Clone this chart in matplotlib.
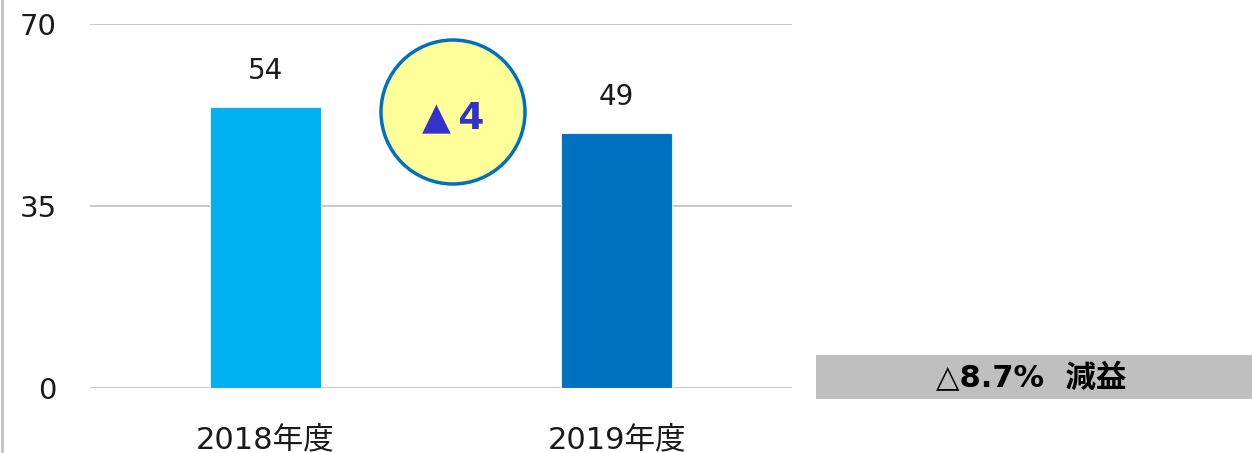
import matplotlib.pyplot as plt
from matplotlib.patches import Ellipse, Rectangle
from matplotlib.lines import Line2D

# data
years = ['2018年度', '2019年度']
profit = [54, 49]
bar_colors = ['#00B0F0', '#0070C0']
yticks = [0, 35, 70]
diff_label = '▲\u20094'
rate_label = '△8.7%  減益'

FAM = ['DejaVu Sans', 'Noto Sans CJK JP']
plt.rcParams['font.family'] = FAM

W, H = 1252, 453
fig = plt.figure(figsize=(W / 100, H / 100), dpi=100)
ax = fig.add_axes([90 / W, 1 - 388 / H, 702 / W, 364 / H])

x = range(len(years))
ax.bar(x, profit, width=0.315, color=bar_colors, edgecolor='#D9EEF7', linewidth=0.8, zorder=3)
for i, v in zip(x, profit):
    ax.text(i, v + 7, str(v), ha='center', va='center', fontsize=20, color='#1a1a1a')

ax.set_xlim(-0.5, 1.5)
ax.set_ylim(0, 70)
ax.set_yticks(yticks)
ax.set_yticklabels([str(t) for t in yticks], fontsize=21, color='#1a1a1a')
ax.set_xticks(list(x))
ax.set_xticklabels(years, fontsize=22, color='#1a1a1a', family=FAM)
ax.tick_params(axis='y', length=0, pad=24)
ax.tick_params(axis='x', length=0, pad=27)
ax.grid(axis='y', color='#BFBFBF', linewidth=1.2, zorder=0)
for s in ax.spines.values():
    s.set_visible(False)

# left border line
fig.add_artist(Line2D([2 / W, 2 / W], [0, 1], transform=fig.transFigure,
                      color='#BFBFBF', linewidth=2))

# difference bubble
cx, cy, r = 453, 112, 72
fig.add_artist(Ellipse((cx / W, 1 - cy / H), 2 * r / W, 2 * r / H,
                       transform=fig.transFigure, facecolor='#FFFF99',
                       edgecolor='#0070C0', linewidth=2.5))
fig.text(cx / W, 1 - (cy + 6) / H, diff_label, ha='center', va='center',
         fontsize=27, fontweight='bold', color='#3333CC', family=FAM)

# rate box
fig.add_artist(Rectangle((816 / W, 1 - 399 / H), (W - 816) / W, 44 / H,
                         transform=fig.transFigure, facecolor='#BFBFBF',
                         edgecolor='none'))
fig.text(1031 / W, 1 - 378 / H, rate_label, ha='center', va='center',
         fontsize=22, fontweight='bold', color='black', family=FAM)

fig.savefig('out.png', dpi=100)
